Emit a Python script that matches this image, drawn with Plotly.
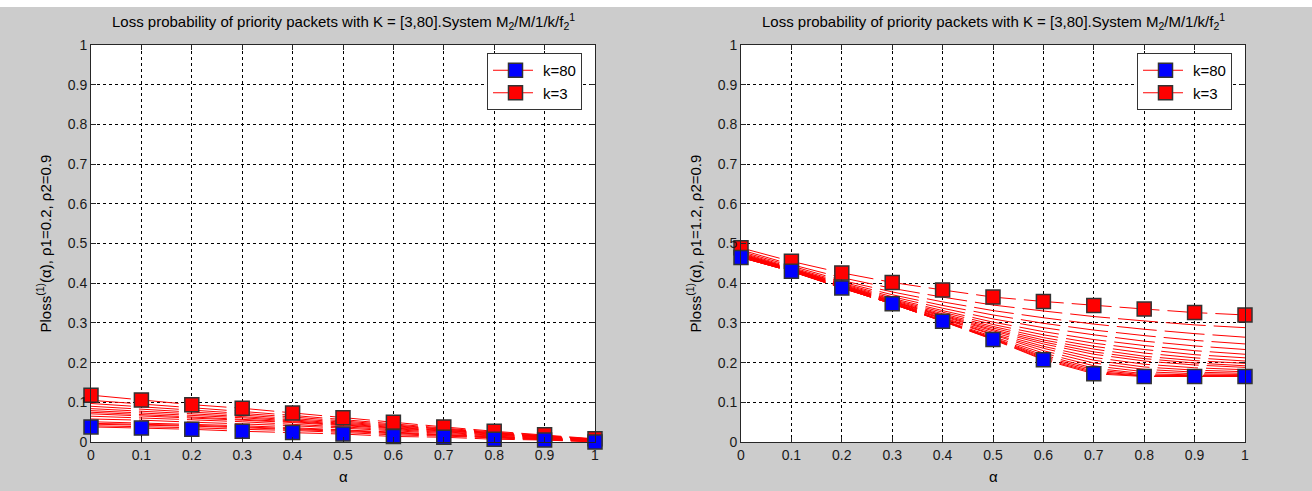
import plotly.graph_objects as go

W, H = 1312, 491

alpha = [0.0, 0.1, 0.2, 0.3, 0.4, 0.5, 0.6, 0.7, 0.8, 0.9, 1.0]
tick_vals = [0.0, 0.1, 0.2, 0.3, 0.4, 0.5, 0.6, 0.7, 0.8, 0.9, 1.0]
tick_text = ["0", "0.1", "0.2", "0.3", "0.4", "0.5", "0.6", "0.7", "0.8", "0.9", "1"]

# Left panel (rho1 = 0.2)
left_k3 = [0.118, 0.106, 0.094, 0.085, 0.073, 0.061, 0.050, 0.038, 0.027, 0.018, 0.008]
left_k80 = [0.038, 0.035, 0.032, 0.027, 0.024, 0.020, 0.014, 0.012, 0.007, 0.005, 0.000]
left_mid = {
    4: [0.105, 0.096, 0.086, 0.077, 0.067, 0.056, 0.046, 0.035, 0.025, 0.016, 0.007],
    5: [0.097, 0.089, 0.080, 0.072, 0.063, 0.053, 0.043, 0.033, 0.023, 0.015, 0.007],
    6: [0.090, 0.083, 0.075, 0.068, 0.059, 0.050, 0.041, 0.031, 0.022, 0.014, 0.006],
    7: [0.084, 0.078, 0.071, 0.064, 0.056, 0.047, 0.039, 0.030, 0.021, 0.013, 0.006],
    8: [0.079, 0.073, 0.067, 0.061, 0.053, 0.045, 0.037, 0.028, 0.020, 0.012, 0.005],
    9: [0.075, 0.069, 0.064, 0.058, 0.051, 0.043, 0.035, 0.027, 0.019, 0.012, 0.005],
    10: [0.071, 0.066, 0.061, 0.055, 0.049, 0.041, 0.034, 0.026, 0.018, 0.011, 0.005],
    12: [0.065, 0.061, 0.056, 0.051, 0.045, 0.038, 0.031, 0.024, 0.016, 0.010, 0.004],
    15: [0.058, 0.055, 0.050, 0.046, 0.041, 0.035, 0.028, 0.022, 0.015, 0.009, 0.003],
    20: [0.051, 0.048, 0.045, 0.041, 0.036, 0.031, 0.025, 0.019, 0.013, 0.008, 0.003],
    25: [0.047, 0.045, 0.042, 0.038, 0.034, 0.029, 0.023, 0.018, 0.012, 0.007, 0.002],
    30: [0.045, 0.043, 0.040, 0.036, 0.032, 0.027, 0.021, 0.017, 0.011, 0.007, 0.002],
    45: [0.041, 0.039, 0.036, 0.032, 0.029, 0.024, 0.018, 0.015, 0.010, 0.006, 0.001],
}

# Right panel (rho1 = 1.2)
right_k3 = [0.489, 0.455, 0.426, 0.402, 0.383, 0.365, 0.354, 0.344, 0.335, 0.326, 0.320]
right_k80 = [0.465, 0.430, 0.388, 0.348, 0.304, 0.258, 0.207, 0.172, 0.165, 0.165, 0.165]
right_mid = {
    4: [0.484, 0.447, 0.414, 0.387, 0.365, 0.345, 0.330, 0.316, 0.305, 0.295, 0.288],
    5: [0.480, 0.443, 0.407, 0.378, 0.353, 0.331, 0.313, 0.297, 0.284, 0.273, 0.264],
    6: [0.477, 0.440, 0.403, 0.371, 0.344, 0.320, 0.299, 0.282, 0.268, 0.256, 0.247],
    7: [0.475, 0.438, 0.400, 0.366, 0.337, 0.310, 0.288, 0.270, 0.254, 0.242, 0.233],
    8: [0.473, 0.437, 0.398, 0.362, 0.331, 0.302, 0.278, 0.258, 0.243, 0.230, 0.221],
    9: [0.472, 0.436, 0.396, 0.359, 0.327, 0.296, 0.270, 0.249, 0.233, 0.220, 0.212],
    10: [0.471, 0.435, 0.395, 0.357, 0.323, 0.291, 0.263, 0.241, 0.224, 0.212, 0.204],
    11: [0.470, 0.434, 0.394, 0.355, 0.320, 0.287, 0.257, 0.234, 0.216, 0.205, 0.198],
    12: [0.469, 0.434, 0.393, 0.354, 0.318, 0.283, 0.252, 0.227, 0.210, 0.199, 0.192],
    13: [0.469, 0.433, 0.392, 0.353, 0.316, 0.280, 0.247, 0.221, 0.204, 0.194, 0.188],
    15: [0.468, 0.433, 0.391, 0.352, 0.313, 0.276, 0.241, 0.213, 0.196, 0.187, 0.182],
    17: [0.467, 0.432, 0.390, 0.351, 0.311, 0.272, 0.236, 0.206, 0.189, 0.181, 0.177],
    20: [0.467, 0.432, 0.390, 0.350, 0.309, 0.269, 0.230, 0.199, 0.183, 0.176, 0.173],
    25: [0.466, 0.431, 0.389, 0.349, 0.307, 0.266, 0.224, 0.192, 0.177, 0.172, 0.170],
    30: [0.466, 0.431, 0.389, 0.349, 0.306, 0.263, 0.219, 0.186, 0.172, 0.169, 0.168],
    35: [0.465, 0.430, 0.388, 0.348, 0.305, 0.261, 0.215, 0.182, 0.169, 0.167, 0.167],
    45: [0.465, 0.430, 0.388, 0.348, 0.305, 0.260, 0.212, 0.178, 0.167, 0.166, 0.166],
    60: [0.465, 0.430, 0.388, 0.348, 0.304, 0.259, 0.209, 0.175, 0.166, 0.165, 0.165],
}

title_text = "Loss probability of priority packets with K = [3,80].System M<sub>2</sub>/M/1/k/f<sub>2</sub><sup>1</sup>"
ylabels = ["Ploss<sup>(1)</sup>(α), ρ1=0.2, ρ2=0.9", "Ploss<sup>(1)</sup>(α), ρ1=1.2, ρ2=0.9"]

FONT = "Liberation Sans, Arial, sans-serif"
DASH = "40px,8px"


def px_x(p):
    return p / W


def px_y(p):
    return 1 - p / H


panels = [
    dict(x0=91, x1=595, k3=left_k3, k80=left_k80, mid=left_mid, ax="", legend="legend"),
    dict(x0=741, x1=1245, k3=right_k3, k80=right_k80, mid=right_mid, ax="2", legend="legend2"),
]
y_top, y_bot = 45, 442

fig = go.Figure()
annotations = []
for i, p in enumerate(panels):
    xa = "x" + p["ax"]
    ya = "y" + p["ax"]
    for k, vals in p["mid"].items():
        fig.add_trace(go.Scatter(
            x=alpha, y=vals, xaxis=xa, yaxis=ya, mode="lines",
            line=dict(color="red", width=1, dash=DASH),
            showlegend=False, hoverinfo="skip"))
    fig.add_trace(go.Scatter(
        x=alpha, y=p["k3"], xaxis=xa, yaxis=ya, mode="lines+markers", name="k=3",
        line=dict(color="red", width=1, dash=DASH),
        marker=dict(symbol="square", size=14, color="#ff0000", line=dict(color="#333333", width=1.5)),
        cliponaxis=False, legend=p["legend"], legendrank=2))
    fig.add_trace(go.Scatter(
        x=alpha, y=p["k80"], xaxis=xa, yaxis=ya, mode="lines+markers", name="k=80",
        line=dict(color="red", width=1, dash=DASH),
        marker=dict(symbol="square", size=14, color="#0000ff", line=dict(color="#333333", width=1.5)),
        cliponaxis=False, legend=p["legend"], legendrank=1))

    cx = px_x((p["x0"] + p["x1"]) / 2)
    annotations.append(dict(text=title_text, x=cx, y=px_y(21), xref="paper", yref="paper",
                            showarrow=False, font=dict(family=FONT, size=15, color="black"),
                            xanchor="center", yanchor="middle"))
    annotations.append(dict(text="α", x=cx, y=px_y(476), xref="paper", yref="paper",
                            showarrow=False, font=dict(family=FONT, size=15, color="black"),
                            xanchor="center", yanchor="middle"))
    annotations.append(dict(text=ylabels[i], x=px_x(p["x0"] - 47), y=px_y((y_top + y_bot) / 2),
                            xref="paper", yref="paper", textangle=-90, showarrow=False,
                            font=dict(family=FONT, size=15, color="black"),
                            xanchor="center", yanchor="middle"))

axis_common = dict(
    range=[0, 1], tickvals=tick_vals, ticktext=tick_text,
    showline=True, mirror="ticks", linecolor="#262626", linewidth=1,
    ticks="inside", ticklen=5, tickcolor="#262626",
    showgrid=True, gridcolor="black", gridwidth=1, griddash="3px,3px",
    zeroline=False, tickfont=dict(family=FONT, size=14, color="#1a1a1a"),
    fixedrange=True, automargin=False,
)

legend_common = dict(
    bgcolor="white", bordercolor="#333333", borderwidth=1,
    font=dict(family=FONT, size=15, color="black"),
    xanchor="left", yanchor="top", itemwidth=45, tracegroupgap=0,
)

fig.update_layout(
    width=W, height=H,
    margin=dict(l=0, r=0, t=0, b=0),
    paper_bgcolor="#cccccc", plot_bgcolor="white",
    xaxis=dict(domain=[px_x(91), px_x(595)], anchor="y", **axis_common),
    yaxis=dict(domain=[px_y(y_bot), px_y(y_top)], anchor="x", **axis_common),
    xaxis2=dict(domain=[px_x(741), px_x(1245)], anchor="y2", **axis_common),
    yaxis2=dict(domain=[px_y(y_bot), px_y(y_top)], anchor="x2", **axis_common),
    legend=dict(x=px_x(487), y=px_y(53), **legend_common),
    legend2=dict(x=px_x(1137), y=px_y(53), **legend_common),
    annotations=annotations,
    shapes=[dict(type="rect", xref="paper", yref="paper", x0=0, x1=1, y0=px_y(7), y1=1,
                 fillcolor="white", line=dict(width=0), layer="below")],
    showlegend=True,
)

fig.write_html("out.html")
